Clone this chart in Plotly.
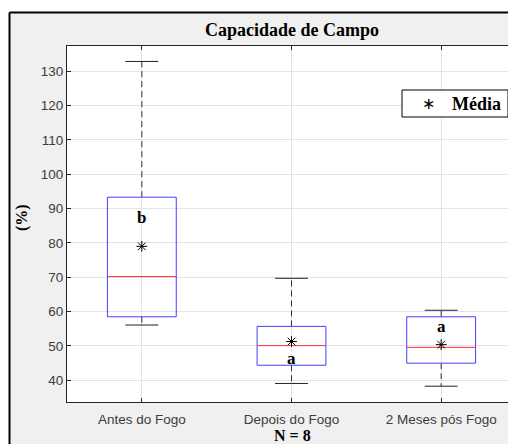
import plotly.graph_objects as go

# data
categories = ["Antes do Fogo", "Depois do Fogo", "2 Meses pós Fogo"]
upper = [132.8, 69.7, 60.4]
q3 = [93.3, 55.7, 58.5]
median = [70.2, 50.1, 49.6]
q1 = [58.5, 44.4, 45.0]
lower = [56.1, 39.1, 38.3]
mean = [79.0, 51.3, 50.4]
letters = ["b", "a", "a"]
letter_y = [87.5, 46.4, 55.6]
yticks = [40, 50, 60, 70, 80, 90, 100, 110, 120, 130]

# the page body has an 8px margin, so the figure is drawn 8px in from the window corner
OFF = 8
W, H = 516 - OFF, 444 - OFF
L, R, T, B = 67 - OFF, 0, 46 - OFF, 444 - 402
pw, ph = W - L - R, H - T - B

def px_x(p):
    return (p - OFF - L) / pw

def px_y(p):
    return (H - B - (p - OFF)) / ph

serif = "Liberation Serif"
sans = "Liberation Sans"
hw, cw = 0.23, 0.11  # half widths of box and whisker caps

pos = list(range(1, len(categories) + 1))

box_x, box_y, med_x, med_y = [], [], [], []
wh_x, wh_y, cap_x, cap_y = [], [], [], []
for i, x in enumerate(pos):
    box_x += [x - hw, x + hw, x + hw, x - hw, x - hw, None]
    box_y += [q1[i], q1[i], q3[i], q3[i], q1[i], None]
    med_x += [x - hw, x + hw, None]
    med_y += [median[i], median[i], None]
    wh_x += [x, x, None, x, x, None]
    wh_y += [q3[i], upper[i], None, q1[i], lower[i], None]
    cap_x += [x - cw, x + cw, None, x - cw, x + cw, None]
    cap_y += [upper[i], upper[i], None, lower[i], lower[i], None]

fig = go.Figure()
fig.add_trace(go.Scatter(x=wh_x, y=wh_y, mode="lines", showlegend=False,
                         line=dict(color="#333333", width=1, dash="6px,4px")))
fig.add_trace(go.Scatter(x=cap_x, y=cap_y, mode="lines", showlegend=False,
                         line=dict(color="#222222", width=1)))
fig.add_trace(go.Scatter(x=box_x, y=box_y, mode="lines", showlegend=False,
                         line=dict(color="#4040ff", width=1)))
fig.add_trace(go.Scatter(x=med_x, y=med_y, mode="lines", showlegend=False,
                         line=dict(color="#ff3030", width=1)))
fig.add_trace(go.Scatter(x=pos, y=mean, mode="markers", name="Média", showlegend=False,
                         marker=dict(symbol="asterisk-open", size=9, color="black",
                                     line=dict(color="#111111", width=1))))

for i, x in enumerate(pos):
    fig.add_annotation(x=x, y=letter_y[i], text="<b>%s</b>" % letters[i], showarrow=False,
                       font=dict(family=serif, size=17, color="black"))

# axis labels
fig.add_annotation(x=px_x(292), y=px_y(436), xref="paper", yref="paper", text="<b>N = 8</b>",
                   xanchor="center", yanchor="middle", showarrow=False,
                   font=dict(family=serif, size=16, color="black"))
fig.add_annotation(x=px_x(22), y=px_y(218), xref="paper", yref="paper", text="<b>(%)</b>",
                   xanchor="center", yanchor="middle", textangle=-90, showarrow=False,
                   font=dict(family=serif, size=16, color="black"))

# legend box for the mean marker
fig.add_shape(type="rect", xref="paper", yref="paper", x0=px_x(402), x1=px_x(508),
              y0=px_y(117), y1=px_y(90), fillcolor="white", line=dict(color="black", width=1))
fig.add_annotation(x=px_x(428), y=px_y(104), xref="paper", yref="paper", text="∗",
                   xanchor="center", yanchor="middle", showarrow=False,
                   font=dict(family="DejaVu Sans", size=16, color="black"))
fig.add_annotation(x=px_x(450), y=px_y(103.5), xref="paper", yref="paper", text="<b>Média</b>",
                   xanchor="left", yanchor="middle", showarrow=False,
                   font=dict(family=serif, size=18, color="black"))

# figure frame
x9, y12 = px_x(9.5), px_y(12.5)
fig.add_shape(type="rect", xref="paper", yref="paper", x0=-0.3, x1=1.3, y0=y12, y1=1.4,
              fillcolor="white", line_width=0, layer="above")
fig.add_shape(type="rect", xref="paper", yref="paper", x0=-0.3, x1=x9, y0=-0.3, y1=1.4,
              fillcolor="white", line_width=0, layer="above")
fig.add_shape(type="line", xref="paper", yref="paper", x0=x9, x1=1.3, y0=y12, y1=y12,
              line=dict(color="black", width=2), layer="above")
fig.add_shape(type="line", xref="paper", yref="paper", x0=x9, x1=x9, y0=-0.3, y1=y12,
              line=dict(color="black", width=2), layer="above")

fig.update_layout(
    width=W, height=H,
    margin=dict(l=L, r=R, t=T, b=B),
    paper_bgcolor="#f0f0f0", plot_bgcolor="white",
    showlegend=False,
    title=dict(text="<b>Capacidade de Campo</b>", x=(292 - OFF) / W, xanchor="center",
               y=1 - (30 - OFF) / H, yanchor="middle",
               font=dict(family=serif, size=18, color="black")),
    xaxis=dict(range=[0.5, 3.5], tickvals=pos, ticktext=categories, showgrid=True,
               gridcolor="#e3e3e3", zeroline=False, showline=True, linecolor="#262626",
               mirror="ticks", ticks="inside", ticklen=4, tickcolor="#262626",
               ticklabelstandoff=5,
               tickfont=dict(family=sans, size=13.5, color="#3c3c3c")),
    yaxis=dict(range=[33.7, 137.3], tickvals=yticks, showgrid=True, gridcolor="#e3e3e3",
               zeroline=False, showline=True, linecolor="#262626", mirror="ticks",
               ticks="inside", ticklen=4, tickcolor="#262626",
               tickfont=dict(family=sans, size=13.5, color="#3c3c3c")),
)

fig.write_html("out.html")
